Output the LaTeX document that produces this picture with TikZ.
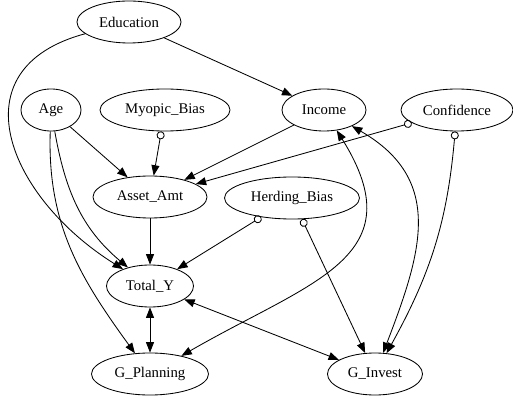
\documentclass[tikz,border=0pt]{standalone}
\usepackage{fontspec}
\setmainfont{Liberation Serif}
\usetikzlibrary{positioning}
\usetikzlibrary{arrows.meta,shapes.geometric}

\begin{document}
\begin{tikzpicture}[x=0.025cm,y=0.025cm,
  var/.style={draw,ellipse,inner sep=0pt,minimum height=1.05cm,line width=0.6pt,font=\fontsize{10.5}{12}\selectfont},
  cause/.style={-{Triangle[length=2.6mm,width=2mm]}},
  bias/.style={{Circle[open,length=2mm]}-{Triangle[length=2.6mm,width=2mm]}},
  both/.style={{Triangle[length=2.6mm,width=2mm]}-{Triangle[length=2.6mm,width=2mm]}}]
\useasboundingbox (0,0) rectangle (513,-399);
\node[var,minimum width=2.6cm](Edu) at (129,-22){Education};
\node[var,minimum width=1.5cm](Age) at (51,-110){Age};
\node[var,minimum width=3.25cm](Myo) at (165,-110){Myopic\_Bias};
\node[var,minimum width=2.1cm](Inc) at (324,-110){Income};
\node[var,minimum width=2.8cm](Conf) at (457,-110){Confidence};
\node[var,minimum width=2.85cm](Asset) at (150,-197){Asset\_Amt};
\node[var,minimum width=3.375cm](Herd) at (292,-198){Herding\_Bias};
\node[var,minimum width=2.175cm](TotY) at (150,-286){Total\_Y};
\node[var,minimum width=2.925cm](GPlan) at (150,-374){G\_Planning};
\node[var,minimum width=2.375cm](GInv) at (375,-374){G\_Invest};

\path[line width=0.6pt]
(Edu) edge[cause] (Inc)
(Edu) edge[cause,out=195,in=148,looseness=1.45] (TotY)
(Age) edge[cause] (Asset)
(Age) edge[cause,out=-80,in=140] (TotY)
(Age) edge[cause,out=-92,in=126] (GPlan)
(Myo) edge[bias] (Asset)
(Inc) edge[cause] (Asset)
(Conf) edge[bias] (Asset)
(Conf) edge[bias,out=-95,in=61] (GInv)
(Asset) edge[cause] (TotY)
(Herd) edge[bias] (TotY)
(Herd) edge[bias] (GInv)
(TotY) edge[both] (GPlan)
(TotY) edge[both] (GInv)
(Inc) edge[both,out=-58,in=30,looseness=1.4] (GPlan)
(Inc) edge[both,out=-30,in=69,looseness=1.2] (GInv);
\end{tikzpicture}
\end{document}
